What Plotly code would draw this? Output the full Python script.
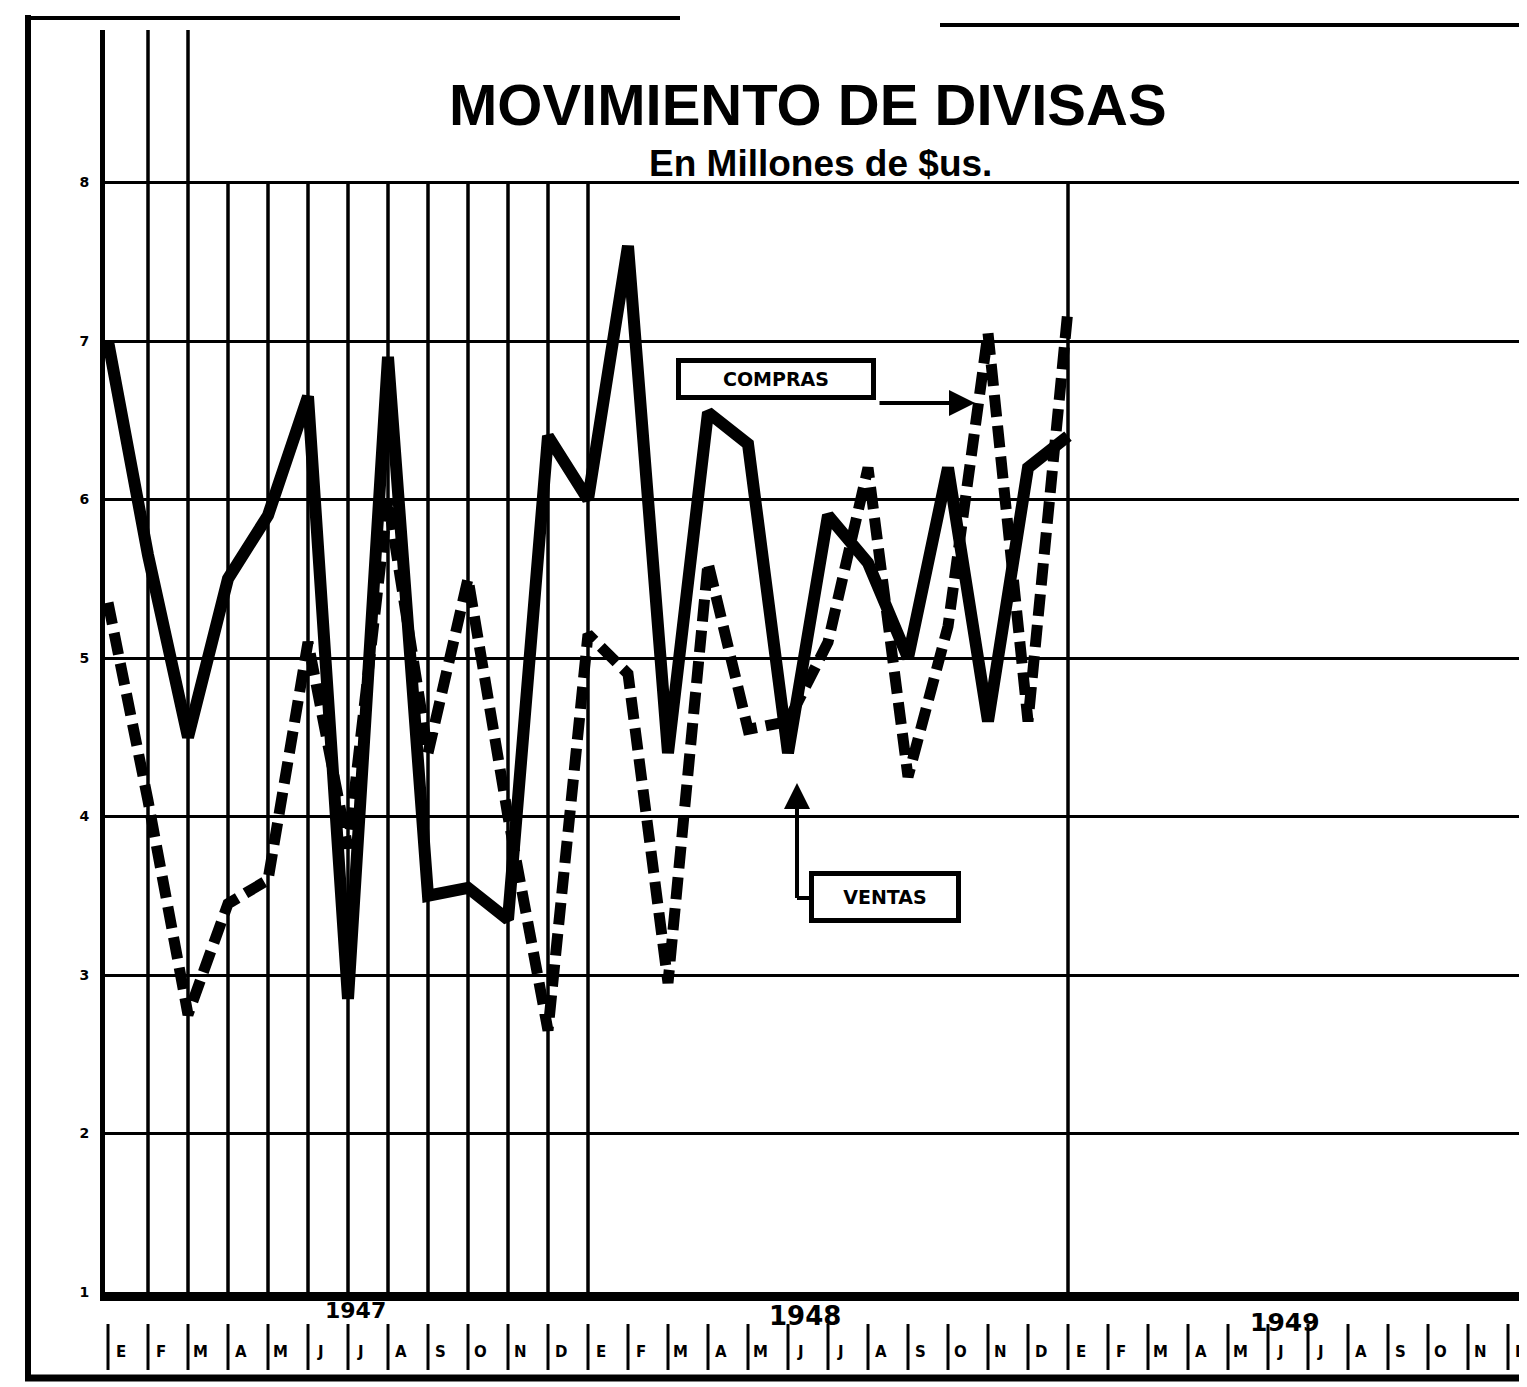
import plotly.graph_objects as go

# ---------------- data ----------------
months = ["E", "F", "M", "A", "M", "J", "J", "A", "S", "O", "N", "D"]
years = ["1947", "1948", "1949"]
y_ticks = [1, 2, 3, 4, 5, 6, 7, 8]

# Ventas (solid line), monthly from Jan 1947 to Jan 1949
ventas = [7.0, 5.65, 4.5, 5.5, 5.9, 6.65, 2.85, 6.9, 3.5, 3.55, 3.35, 6.4,
          6.0, 7.6, 4.4, 6.55, 6.35, 4.4, 5.9, 5.6, 5.0, 6.2, 4.6, 6.2, 6.4]
# Compras (dashed line)
compras = [5.35, 4.1, 2.75, 3.45, 3.6, 5.1, 3.8, 6.0, 4.4, 5.5, 4.0, 2.65,
           5.15, 4.9, 2.95, 5.6, 4.55, 4.6, 5.1, 6.2, 4.25, 5.2, 7.05, 4.6, 7.2]

title = "MOVIMIENTO DE DIVISAS"
subtitle = "En Millones de $us."

# ---------------- layout helpers (page pixel geometry) ----------------
OFF = 8                      # html body margin
W, H = 1527, 1387
PL, PT, PB = 105, 30, 1292   # plot area in page pixels (left, top, bottom)
L = PL - OFF
T = PT - OFF
B = H - (PB - OFF)
R = 0
plot_w = W - L - R
plot_h = H - T - B
X0 = -0.075
XPX = 40.0
X1 = X0 + plot_w / XPX
Y0 = 1.0
YPX = 158.5
Y1 = Y0 + plot_h / YPX


def px2x(px):
    return X0 + (px - PL) / XPX


def py2y(py):
    return Y0 + (PB - py) / YPX


def px2p(px):
    return (px - PL) / plot_w


def py2p(py):
    return (PB - py) / plot_h


fig = go.Figure()
fig.add_trace(go.Scatter(x=list(range(len(ventas))), y=ventas, mode="lines", name="VENTAS",
                         line=dict(color="black", width=12)))
fig.add_trace(go.Scatter(x=list(range(len(compras))), y=compras, mode="lines", name="COMPRAS",
                         line=dict(color="black", width=11, dash="22px,9px")))

shapes = []
for i in range(1, 13):
    top = Y1 if i in (1, 2) else 8
    shapes.append(dict(type="line", xref="x", yref="y", x0=i, x1=i, y0=1, y1=top,
                       line=dict(color="black", width=3.5), layer="below"))
shapes.append(dict(type="line", xref="x", yref="y", x0=24, x1=24, y0=1, y1=8,
                   line=dict(color="black", width=3.5), layer="below"))
# outer frame
shapes.append(dict(type="line", xref="paper", yref="paper", x0=px2p(28), x1=px2p(28),
                   y0=py2p(15), y1=py2p(1381), line=dict(color="black", width=6)))
shapes.append(dict(type="line", xref="paper", yref="paper", x0=px2p(25), x1=px2p(1540),
                   y0=py2p(1378), y1=py2p(1378), line=dict(color="black", width=7)))
shapes.append(dict(type="line", xref="paper", yref="paper", x0=px2p(28), x1=px2p(680),
                   y0=py2p(18), y1=py2p(18), line=dict(color="black", width=4)))
shapes.append(dict(type="line", xref="paper", yref="paper", x0=px2p(940), x1=px2p(1540),
                   y0=py2p(25), y1=py2p(25), line=dict(color="black", width=4)))
# separators between month letters
for i in range(0, 37):
    shapes.append(dict(type="line", xref="x", yref="paper", x0=i, x1=i,
                       y0=py2p(1370), y1=py2p(1324), line=dict(color="black", width=3)))
# VENTAS connector
shapes.append(dict(type="line", xref="x", yref="y", x0=px2x(797), x1=px2x(797),
                   y0=py2y(898), y1=py2y(800), line=dict(color="black", width=4)))
shapes.append(dict(type="line", xref="x", yref="y", x0=px2x(797), x1=px2x(810),
                   y0=py2y(898), y1=py2y(898), line=dict(color="black", width=4)))

annotations = []
annotations.append(dict(text=title, x=px2p(808), y=py2p(104), xref="paper", yref="paper",
                        showarrow=False,
                        font=dict(family="Liberation Sans", size=58, color="black", weight="bold"),
                        xanchor="center", yanchor="middle"))
annotations.append(dict(text=subtitle, x=px2p(820), y=py2p(163), xref="paper", yref="paper",
                        showarrow=False,
                        font=dict(family="Liberation Sans", size=37, color="black", weight="bold"),
                        xanchor="center", yanchor="middle"))
for k in range(3):
    for j, m in enumerate(months):
        i = k * 12 + j
        annotations.append(dict(text=m, x=i + 0.32, y=py2p(1352), xref="x", yref="paper",
                                showarrow=False, xanchor="center", yanchor="middle",
                                font=dict(family="DejaVu Sans", size=15, color="black", weight="bold")))
year_pos = [(355, 1310, 22), (805, 1316, 26), (1285, 1322, 25)]
for yr, (px, py, fs) in zip(years, year_pos):
    annotations.append(dict(text=yr, x=px2p(px), y=py2p(py), xref="paper", yref="paper",
                            showarrow=False, xanchor="center", yanchor="middle",
                            font=dict(family="DejaVu Sans", size=fs, color="black", weight="bold")))
annotations.append(dict(text="COMPRAS", x=px2x(776), y=py2y(379), xref="x", yref="y",
                        showarrow=False, width=188, height=30, borderwidth=5, bordercolor="black",
                        bgcolor="white",
                        font=dict(family="DejaVu Sans", size=19, color="black", weight="bold")))
annotations.append(dict(text="", x=px2x(975), y=py2y(403), ax=px2x(878), ay=py2y(403),
                        xref="x", yref="y", axref="x", ayref="y", showarrow=True,
                        arrowhead=2, arrowsize=1.3, arrowwidth=4, arrowcolor="black"))
annotations.append(dict(text="VENTAS", x=px2x(885), y=py2y(897), xref="x", yref="y",
                        showarrow=False, width=140, height=40, borderwidth=5, bordercolor="black",
                        bgcolor="white",
                        font=dict(family="DejaVu Sans", size=19, color="black", weight="bold")))
annotations.append(dict(text="", x=px2x(797), y=py2y(783), ax=px2x(797), ay=py2y(830),
                        xref="x", yref="y", axref="x", ayref="y", showarrow=True,
                        arrowhead=2, arrowsize=1.3, arrowwidth=4, arrowcolor="black"))

fig.update_layout(
    width=W, height=H,
    margin=dict(l=L, r=R, t=T, b=B),
    paper_bgcolor="white", plot_bgcolor="white",
    showlegend=False,
    shapes=shapes, annotations=annotations,
    xaxis=dict(range=[X0, X1], showgrid=False, zeroline=False, showticklabels=False,
               ticks="", showline=True, linecolor="black", linewidth=9),
    yaxis=dict(range=[Y0, Y1], tickvals=y_ticks, ticktext=[str(v) for v in y_ticks],
               showgrid=True, gridcolor="black", gridwidth=3, zeroline=False,
               showline=True, linecolor="black", linewidth=5, ticks="",
               ticklabelstandoff=8,
               tickfont=dict(family="DejaVu Sans", size=14, color="black", weight="bold")),
)

fig.write_html("out.html")
